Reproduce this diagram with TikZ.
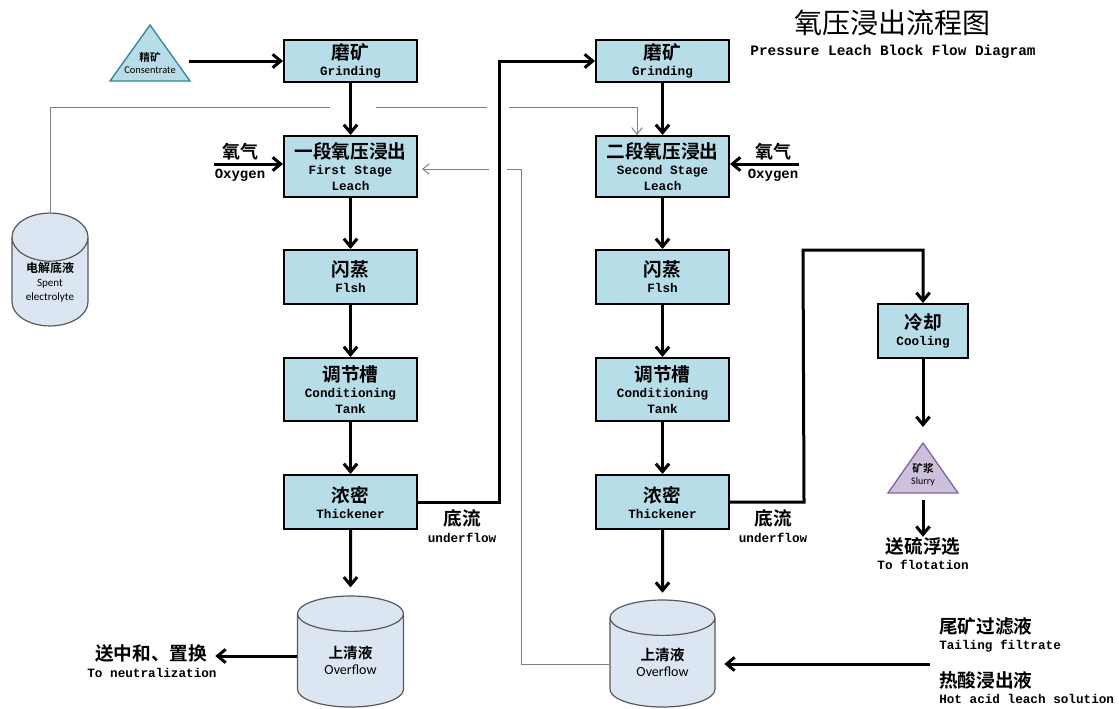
\documentclass[tikz,border=0pt]{standalone}
\usepackage{fontspec}
\setmainfont{Liberation Serif}
\newfontfamily\cjk{Noto Sans CJK SC}[BoldFont={Noto Sans CJK SC Bold}]
\newfontfamily\mono{Liberation Mono}
\newfontfamily\carl{Carlito}
\usetikzlibrary{arrows.meta,shapes.geometric}
\definecolor{boxblue}{RGB}{183,221,232}
\definecolor{tankblue}{RGB}{220,230,242}
\definecolor{tankline}{RGB}{89,89,89}
\definecolor{concline}{RGB}{49,133,155}
\definecolor{slurryfill}{RGB}{204,192,218}
\definecolor{slurryline}{RGB}{128,100,162}
\definecolor{recycle}{RGB}{128,128,128}
\newcommand\boxcn[1]{{\cjk\bfseries\fontsize{14}{16}\selectfont #1}}
\tikzset{
  unit box/.style={draw, line width=1.5pt, fill=boxblue, minimum width=99.75pt,
    inner sep=0pt, align=center, font=\mono\bfseries\fontsize{9.5}{11.5}\selectfont},
  tank/.style={cylinder, shape border rotate=90, draw=tankline, line width=0.9pt,
    fill=tankblue, inner sep=0pt, align=center, anchor=shape center},
  cn label/.style={inner sep=0pt, font=\cjk\bfseries\fontsize{14}{16}\selectfont},
  en label/.style={inner sep=0pt, font=\mono\bfseries\fontsize{9.5}{11}\selectfont},
  flow/.style={line width=2.25pt, -{Straight Barb[length=6pt,width=10pt]}},
  recycle line/.style={draw=recycle, line width=0.75pt},
  recycle arrow/.style={recycle line, -{Straight Barb[length=5pt,width=8pt]}}
}
\begin{document}
\begin{tikzpicture}[x=0.75pt, y=-0.75pt]
  \useasboundingbox (0,0) rectangle (1119,708);
  % title
  \node[font=\cjk\fontsize{21}{24}\selectfont] (title) at (892,23) {氧压浸出流程图};
  \node[font=\mono\bfseries\fontsize{10.8}{12}\selectfont] (subtitle) at (893,52)
    {Pressure Leach Block Flow Diagram};
  % first stage
  \node[unit box, minimum height=31.5pt] (grind1) at (350.5,61) {\boxcn{磨矿}\\[0.5pt]Grinding};
  \node[unit box, minimum height=45.75pt] (leach1) at (350.5,166.5) {\boxcn{一段氧压浸出}\\[0.5pt]First Stage\\Leach};
  \node[unit box, minimum height=40.5pt] (flash1) at (350.5,277) {\boxcn{闪蒸}\\[0.5pt]Flsh};
  \node[unit box, minimum height=47.25pt] (cond1) at (350.5,389.5) {\boxcn{调节槽}\\[0.5pt]Conditioning\\Tank};
  \node[unit box, minimum height=40.5pt] (thick1) at (350.5,502) {\boxcn{浓密}\\[0.5pt]Thickener};
  % second stage
  \node[unit box, minimum height=31.5pt] (grind2) at (662.5,61) {\boxcn{磨矿}\\[0.5pt]Grinding};
  \node[unit box, minimum height=45.75pt] (leach2) at (662.5,166.5) {\boxcn{二段氧压浸出}\\[0.5pt]Second Stage\\Leach};
  \node[unit box, minimum height=40.5pt] (flash2) at (662.5,277) {\boxcn{闪蒸}\\[0.5pt]Flsh};
  \node[unit box, minimum height=47.25pt] (cond2) at (662.5,389.5) {\boxcn{调节槽}\\[0.5pt]Conditioning\\Tank};
  \node[unit box, minimum height=40.5pt] (thick2) at (662.5,502) {\boxcn{浓密}\\[0.5pt]Thickener};
  \node[unit box, minimum width=67.5pt, minimum height=40.5pt] (cool) at (923,331) {\boxcn{冷却}\\[0.5pt]Cooling};
  % tanks
  \node[tank, aspect=1.0, minimum width=57pt, minimum height=83.25pt,
    font=\carl\fontsize{8.3}{10.5}\selectfont] (spent) at (50,269.5)
    {{\cjk\bfseries\fontsize{9}{10}\selectfont 电解底液}\\Spent\\electrolyte};
  \node[tank, aspect=0.68, minimum width=79.5pt, minimum height=83.25pt,
    font=\carl\fontsize{10.5}{12}\selectfont] (over1) at (350.5,651.5)
    {{\cjk\bfseries\fontsize{11}{12}\selectfont 上清液}\\Overflow};
  \node[tank, aspect=0.68, minimum width=78.75pt, minimum height=80.25pt,
    font=\carl\fontsize{10.5}{12}\selectfont] (over2) at (662.5,653.5)
    {{\cjk\bfseries\fontsize{11}{12}\selectfont 上清液}\\Overflow};
  % feed and slurry
  \filldraw[fill=boxblue, draw=concline, line width=1pt] (110,81) -- (150,25) -- (190,81) -- cycle;
  \node[inner sep=0pt, align=center, font=\carl\fontsize{7.8}{9}\selectfont] (conc) at (150,63)
    {{\cjk\bfseries\fontsize{8}{9}\selectfont 精矿}\\Consentrate};
  \filldraw[fill=slurryfill, draw=slurryline, line width=1pt] (888,493) -- (923,443) -- (958,493) -- cycle;
  \node[inner sep=0pt, align=center, font=\carl\fontsize{7.5}{9}\selectfont] (slurry) at (923,475)
    {{\cjk\bfseries\fontsize{8}{9}\selectfont 矿浆}\\Slurry};
  \coordinate (concout) at (189,61);
  \coordinate (slurrytop) at (923,443);
  \coordinate (slurrybot) at (923,493);
  % labels
  \node[cn label, font=\cjk\bfseries\fontsize{13.5}{15}\selectfont] (oxcn1) at (240,152) {氧气};
  \node[en label, font=\mono\bfseries\fontsize{10.5}{12}\selectfont] (oxen1) at (240,175) {Oxygen};
  \node[cn label, font=\cjk\bfseries\fontsize{13.5}{15}\selectfont] (oxcn2) at (773,152) {氧气};
  \node[en label, font=\mono\bfseries\fontsize{10.5}{12}\selectfont] (oxen2) at (773,175) {Oxygen};
  \node[cn label] (ufcn1) at (462,518) {底流};
  \node[en label] (ufen1) at (462,538) {underflow};
  \node[cn label] (ufcn2) at (773,518) {底流};
  \node[en label] (ufen2) at (773,538) {underflow};
  \node[cn label] (flotcn) at (923,546) {送硫浮选};
  \node[en label] (floten) at (923,565) {To flotation};
  \node[cn label] (neutcn) at (151,653) {送中和、置换};
  \node[en label] (neuten) at (152,673) {To neutralization};
  \node[cn label, anchor=west] (tailcn) at (939,626) {尾矿过滤液};
  \node[en label, anchor=west] (tailen) at (939,646) {Tailing filtrate};
  \node[cn label, anchor=west] (hotcn) at (939,680) {热酸浸出液};
  \node[en label, anchor=west] (hoten) at (939,699) {Hot acid leach solution};
  \coordinate (oxy1) at (214,164);
  \coordinate (oxy2) at (799,164);
  \coordinate (tailin) at (930,664);
  % recycle streams
  \draw[recycle line] (spent.north) |- (330,107);
  \draw[recycle line] (376,107) -- (487,107);
  \draw[recycle arrow] (509,107) -| (637,0 |- leach2.north);
  \draw[recycle line] (over2.west |- 0,664) -| (521,169) -- (507,169);
  \draw[recycle arrow, shorten >=3pt] (489,169) -- (leach1.east |- 0,169);
  % main streams
  \begin{scope}[flow]
    \draw (concout) -- (grind1);
    \draw (grind1) -- (leach1);
    \draw (leach1) -- (flash1);
    \draw (flash1) -- (cond1);
    \draw (cond1) -- (thick1);
    \draw[shorten >=6pt] (thick1) -- (over1);
    \draw (grind2) -- (leach2);
    \draw (leach2) -- (flash2);
    \draw (flash2) -- (cond2);
    \draw (cond2) -- (thick2);
    \draw[shorten >=5pt] (thick2) -- (over2);
    \draw (oxy1) -- (oxy1 -| leach1.west);
    \draw (oxy2) -- (oxy2 -| leach2.east);
    \draw (thick1.east) -- ++(81,0) |- (grind2.west);
    \draw (thick2.east) -- ++(74,0) -- (803,250) -| (cool.north);
    \draw[shorten >=12pt] (cool) -- (slurrytop);
    \draw[shorten <=5pt] (slurrybot) -- (flotcn.north);
    \draw[shorten >=6pt] (over1.west |- 0,656) -- (neutcn.east |- 0,656);
    \draw[shorten >=6.5pt] (tailin) -- (tailin -| over2.east);
  \end{scope}
\end{tikzpicture}
\end{document}
